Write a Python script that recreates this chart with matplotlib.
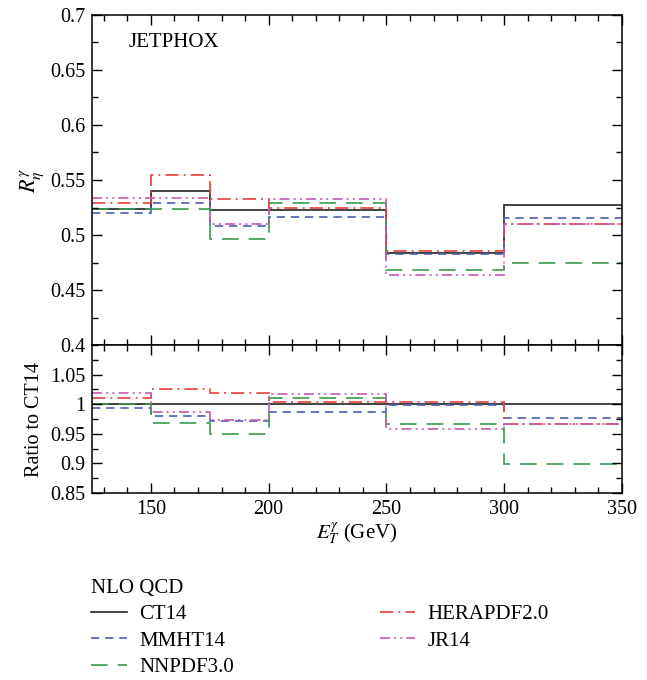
import numpy as np
import matplotlib
matplotlib.use("Agg")
import matplotlib.pyplot as plt
from matplotlib.ticker import MultipleLocator

plt.rcParams['font.family'] = ['Liberation Serif', 'DejaVu Serif']
plt.rcParams['mathtext.fontset'] = 'stix'
plt.rcParams['font.size'] = 14

# bin edges in E_T^gamma (GeV)
edges = [125, 150, 175, 200, 250, 300, 350]

# R_eta^gamma per bin
ct14 = [0.5234, 0.5403, 0.5227, 0.5227, 0.4833, 0.5276]
mmht14 = [0.5203, 0.5294, 0.5082, 0.5164, 0.4827, 0.5157]
nnpdf30 = [0.5239, 0.5236, 0.4964, 0.5294, 0.4679, 0.4745]
herapdf20 = [0.5294, 0.5545, 0.5327, 0.5243, 0.4857, 0.5103]
jr14 = [0.5339, 0.5333, 0.5097, 0.5325, 0.4636, 0.5103]

# ratio to CT14 per bin
r_ct14 = [1.0, 1.0, 1.0, 1.0, 1.0, 1.0]
r_mmht14 = [0.9933, 0.980, 0.972, 0.987, 0.998, 0.977]
r_nnpdf30 = [1.001, 0.9686, 0.949, 1.0106, 0.967, 0.8995]
r_herapdf20 = [1.0113, 1.0253, 1.0197, 1.003, 1.0045, 0.967]
r_jr14 = [1.0197, 0.987, 0.974, 1.0174, 0.958, 0.967]

labels = ["CT14", "MMHT14", "NNPDF3.0", "HERAPDF2.0", "JR14"]
colors = ["#222222", "#4c5fb4", "#3a9a4e", "#e8403a", "#c45aaf"]
dashes = [None, (5, 3.5), (10, 6), (8, 3, 1.2, 3), (6, 2.5, 1.2, 2.5, 1.2, 2.5)]

fig = plt.figure(figsize=(6.47, 6.8), dpi=100)
ax1 = fig.add_axes([0.1422, 0.4926, 0.8192, 0.4854])
ax2 = fig.add_axes([0.1422, 0.275, 0.8192, 0.2176], sharex=ax1)

handles = []
for vals, rvals, lab, c, d in zip([ct14, mmht14, nnpdf30, herapdf20, jr14],
                                  [r_ct14, r_mmht14, r_nnpdf30, r_herapdf20, r_jr14],
                                  labels, colors, dashes):
    ls = '-' if d is None else (0, d)
    kw = dict(color=c, lw=1.2, baseline=None, linestyle=ls)
    ax1.stairs(vals, edges, **kw)
    ax2.stairs(rvals, edges, **kw)
    ln, = ax1.plot([], [], color=c, lw=1.2, linestyle=ls, label=lab)
    handles.append(ln)

ax1.set_xlim(125, 350)
ax1.set_ylim(0.4, 0.7)
ax2.set_ylim(0.85, 1.1)

ax1.yaxis.set_major_locator(MultipleLocator(0.05))
ax1.yaxis.set_minor_locator(MultipleLocator(0.025))
ax2.yaxis.set_major_locator(MultipleLocator(0.05))
ax2.yaxis.set_minor_locator(MultipleLocator(0.025))
ax2.xaxis.set_major_locator(MultipleLocator(50))
ax2.xaxis.set_minor_locator(MultipleLocator(10))

for ax in (ax1, ax2):
    ax.tick_params(which='both', direction='in', top=True, right=True, labelsize=14.5)
    ax.tick_params(which='major', length=7.5, width=1, pad=5)
    ax.tick_params(which='minor', length=4, width=1)
    for sp in ax.spines.values():
        sp.set_linewidth(1.1)

ax1.tick_params(labelbottom=False)
ax1.set_yticks([0.4, 0.45, 0.5, 0.55, 0.6, 0.65, 0.7])
ax1.set_yticklabels(["0.4", "0.45", "0.5", "0.55", "0.6", "0.65", "0.7"])
ax2.set_yticks([0.85, 0.9, 0.95, 1.0, 1.05])
ax2.set_yticklabels(["0.85", "0.9", "0.95", "1", "1.05"])

ax1.set_ylabel(r"$R_{\eta}^{\gamma}$", fontsize=16, labelpad=3)
ax2.set_ylabel("Ratio to CT14", fontsize=14.5)
ax2.set_xlabel(r"$E_T^{\gamma}$ (GeV)", fontsize=15, labelpad=1)
fig.align_ylabels([ax1, ax2])

ax1.text(0.07, 0.918, "JETPHOX", transform=ax1.transAxes, fontsize=15,
         va='center', ha='left')

fig.legend(handles=handles, loc='upper left', bbox_to_anchor=(0.128, 0.161),
           ncol=2, frameon=False, title="NLO QCD", alignment='left',
           fontsize=15, title_fontsize=15, handlelength=1.7, handletextpad=0.6,
           columnspacing=7.0, labelspacing=0.33, borderaxespad=0)

fig.savefig("out.png", dpi=100)
